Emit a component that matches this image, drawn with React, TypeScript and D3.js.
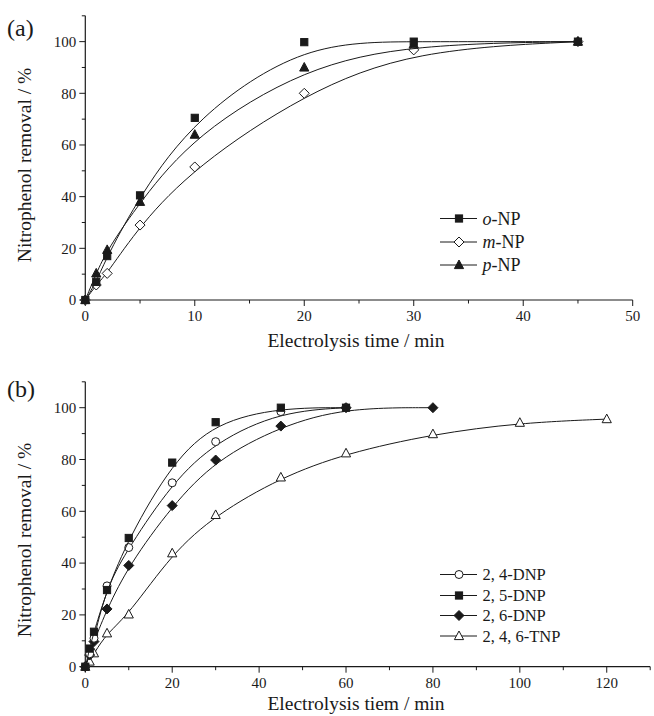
import React from "react";
import * as d3 from "d3";

// Panel (a)
const timeA = [0, 1, 2, 5, 10, 20, 30, 45];
const oNP = [0, 7, 17, 40.5, 70.5, 99.8, 100, 100];
const mNP = [0, 5.8, 10.3, 29, 51.5, 80, 96.8, 100];
const pNP = [0, 10.3, 19.4, 38, 64, 90, 99, 100];

// Panel (b)
const timeB = [0, 1, 2, 5, 10, 20, 30, 45, 60];
const timeB26 = [0, 1, 2, 5, 10, 20, 30, 45, 60, 80];
const timeTNP = [0, 1, 2, 5, 10, 20, 30, 45, 60, 80, 100, 120];
const dnp24 = [0, 5, 11, 31.2, 46, 71, 86.9, 98.5, 100];
const dnp25 = [0, 7, 13.5, 29.6, 49.7, 78.8, 94.4, 100, 100];
const dnp26 = [0, 4.5, 9.7, 22.3, 39.1, 62.2, 79.8, 92.9, 100, 100];
const tnp = [0, 2, 5.2, 12.9, 20.2, 43.8, 58.6, 73.1, 82.4, 89.8, 94.2, 95.6];

const yTicks = [0, 20, 40, 60, 80, 100];
const yMinor = [10, 30, 50, 70, 90, 110];
const xTicksA = [0, 10, 20, 30, 40, 50];
const xMinorA = [5, 15, 25, 35, 45];
const xTicksB = [0, 20, 40, 60, 80, 100, 120];
const xMinorB = [10, 30, 50, 70, 90, 110, 130];

const FONT = '"Liberation Serif", "Times New Roman", serif';
const INK = "#1a1a1a";

type Shape = "square" | "diamond" | "triangle" | "circle";

function Marker({ shape, filled, x, y }: { shape: Shape; filled: boolean; x: number; y: number }) {
  const fill = filled ? INK : "#fff";
  const common = { fill, stroke: INK, strokeWidth: 1 };
  if (shape === "square") return <rect x={x - 3.6} y={y - 3.6} width={7.2} height={7.2} {...common} />;
  if (shape === "circle") return <circle cx={x} cy={y} r={4} {...common} />;
  if (shape === "diamond")
    return <path d={`M${x},${y - 5}L${x + 5},${y}L${x},${y + 5}L${x - 5},${y}Z`} {...common} />;
  return <path d={`M${x},${y - 5}L${x + 4.6},${y + 3.6}L${x - 4.6},${y + 3.6}Z`} {...common} />;
}

function Axes({ x, y, xTicks, xMinor, xLabel, labelOffset, yLabelY }: any) {
  const [x0, x1] = x.range();
  const [y0, y1] = y.range();
  return (
    <g fontFamily={FONT} fill={INK}>
      <line x1={x0} x2={x0} y1={y0} y2={y1} stroke={INK} strokeWidth={1.2} />
      <line x1={x0} x2={x1} y1={y0} y2={y0} stroke={INK} strokeWidth={1.2} />
      {yTicks.map((t) => (
        <g key={"y" + t}>
          <line x1={x0 - 6} x2={x0} y1={y(t)} y2={y(t)} stroke={INK} />
          <text x={x0 - 9} y={y(t)} dy="0.35em" textAnchor="end" fontSize={15}>{t}</text>
        </g>
      ))}
      {yMinor.map((t) => (
        <line key={"ym" + t} x1={x0 - 3.5} x2={x0} y1={y(t)} y2={y(t)} stroke={INK} />
      ))}
      {xTicks.map((t: number) => (
        <g key={"x" + t}>
          <line x1={x(t)} x2={x(t)} y1={y0} y2={y0 + 6} stroke={INK} />
          <text x={x(t)} y={y0 + 21} textAnchor="middle" fontSize={15}>{t}</text>
        </g>
      ))}
      {xMinor.map((t: number) => (
        <line key={"xm" + t} x1={x(t)} x2={x(t)} y1={y0} y2={y0 + 3.5} stroke={INK} />
      ))}
      <text x={356} y={y0 + labelOffset} textAnchor="middle" fontSize={19.5}>{xLabel}</text>
      <text
        transform={`translate(31,${yLabelY}) rotate(-90)`}
        textAnchor="middle"
        fontSize={19.5}
      >
        Nitrophenol removal / %
      </text>
    </g>
  );
}

function Series({ xs, ys, x, y, shape, filled }: any) {
  const pts: [number, number][] = xs.map((t: number, i: number) => [x(t), y(ys[i])]);
  const line = d3.line().curve(d3.curveBasis);
  return (
    <g>
      <path d={line(pts) || ""} fill="none" stroke={INK} strokeWidth={1} />
      {pts.map((p, i) => (
        <Marker key={i} shape={shape} filled={filled} x={p[0]} y={p[1]} />
      ))}
    </g>
  );
}

function LegendRow({ y, shape, filled, children, fontSize }: any) {
  return (
    <g>
      <line x1={440} x2={477} y1={y} y2={y} stroke={INK} />
      <Marker shape={shape} filled={filled} x={459} y={y} />
      <text x={482.5} y={y} dy="0.35em" fontSize={fontSize} fontFamily={FONT} fill={INK}>
        {children}
      </text>
    </g>
  );
}

export default function App() {
  const xA = d3.scaleLinear().domain([0, 50]).range([85.3, 632.7]);
  const yA = d3.scaleLinear().domain([0, 110]).range([300, 15.8]);
  const xB = d3.scaleLinear().domain([0, 130]).range([85.3, 650.2]);
  const yB = d3.scaleLinear().domain([0, 110]).range([666.7, 381.8]);

  return (
    <svg
      width={654}
      height={716}
      style={{ position: "absolute", left: 0, top: 0, background: "#fff" }}
    >
      <rect width={654} height={716} fill="#fff" />
      {/* Panel (a) */}
      <text x={7} y={36} fontSize={24} fontFamily={FONT} fill={INK}>(a)</text>
      <Axes x={xA} y={yA} xTicks={xTicksA} xMinor={xMinorA} xLabel="Electrolysis time / min" labelOffset={47} yLabelY={165} />
      <Series xs={timeA} ys={mNP} x={xA} y={yA} shape="diamond" filled={false} />
      <Series xs={timeA} ys={pNP} x={xA} y={yA} shape="triangle" filled={true} />
      <Series xs={timeA} ys={oNP} x={xA} y={yA} shape="square" filled={true} />
      <LegendRow y={218.5} shape="square" filled={true} fontSize={18}>
        <tspan fontStyle="italic">o</tspan>-NP
      </LegendRow>
      <LegendRow y={242} shape="diamond" filled={false} fontSize={18}>
        <tspan fontStyle="italic">m</tspan>-NP
      </LegendRow>
      <LegendRow y={265} shape="triangle" filled={true} fontSize={18}>
        <tspan fontStyle="italic">p</tspan>-NP
      </LegendRow>

      {/* Panel (b) */}
      <text x={7} y={397} fontSize={24} fontFamily={FONT} fill={INK}>(b)</text>
      <Axes x={xB} y={yB} xTicks={xTicksB} xMinor={xMinorB} xLabel="Electrolysis tiem / min" labelOffset={43} yLabelY={540} />
      <Series xs={timeTNP} ys={tnp} x={xB} y={yB} shape="triangle" filled={false} />
      <Series xs={timeB26} ys={dnp26} x={xB} y={yB} shape="diamond" filled={true} />
      <Series xs={timeB} ys={dnp24} x={xB} y={yB} shape="circle" filled={false} />
      <Series xs={timeB} ys={dnp25} x={xB} y={yB} shape="square" filled={true} />
      <LegendRow y={574.5} shape="circle" filled={false} fontSize={16.5}>2, 4-DNP</LegendRow>
      <LegendRow y={595.5} shape="square" filled={true} fontSize={16.5}>2, 5-DNP</LegendRow>
      <LegendRow y={615.5} shape="diamond" filled={true} fontSize={16.5}>2, 6-DNP</LegendRow>
      <LegendRow y={636} shape="triangle" filled={false} fontSize={16.5}>2, 4, 6-TNP</LegendRow>
    </svg>
  );
}
